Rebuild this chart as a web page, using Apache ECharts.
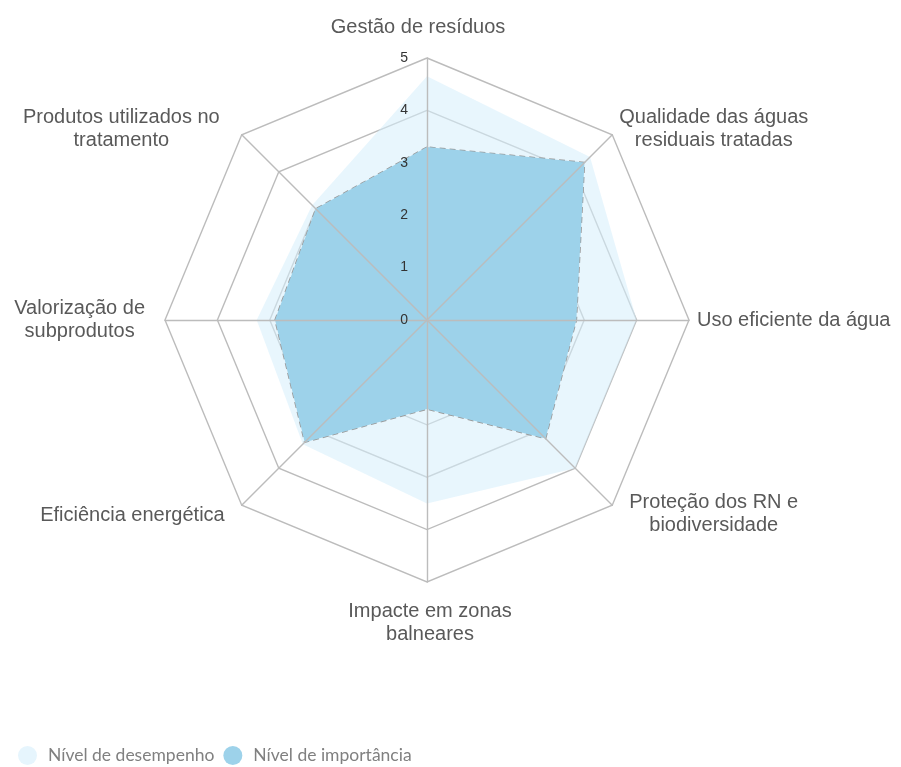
<!DOCTYPE html>
<html>
<head>
<meta charset="utf-8">
<script src="https://cdn.jsdelivr.net/npm/echarts@6/dist/echarts.min.js"></script>
<style>
  html, body { margin: 0; padding: 0; background: #ffffff; }
  #chart { width: 901px; height: 767px; }
</style>
</head>
<body>
<div id="chart"></div>
<script>
// Indicators, listed clockwise from the top
const indicatorNames = [
  'Gestão de resíduos',
  'Qualidade das águas\nresiduais tratadas',
  'Uso eficiente da água',
  'Proteção dos RN e\nbiodiversidade',
  'Impacte em zonas\nbalneares',
  'Eficiência energética',
  'Valorização de\nsubprodutos',
  'Produtos utilizados no\ntratamento'
];
const scaleMax = 5;
const seriesNames = ['Nível de desempenho', 'Nível de importância'];
const desempenho = [4.65, 4.4, 4.0, 4.0, 3.5, 3.35, 3.25, 3.1];
const importancia = [3.3, 4.25, 2.85, 3.2, 1.7, 3.3, 2.9, 3.0];

// Offsets of each axis name from its spoke end (same order as indicatorNames):
// l / r = horizontal padding, up / down = spacer line heights
const nameOffsets = [
  { l: 0,  r: 18, up: 0,  down: 19 },
  { l: 7,  r: 0,  up: 0,  down: 12 },
  { l: 8,  r: 0,  up: 0,  down: 0 },
  { l: 17, r: 0,  up: 18, down: 0 },
  { l: 6,  r: 0,  up: 18, down: 0 },
  { l: 0,  r: 17, up: 20, down: 0 },
  { l: 0,  r: 20, up: 0,  down: 0 },
  { l: 0,  r: 22, up: 0,  down: 12 }
];

// ECharts lays radar indicators out counter-clockwise, so reverse all but the first
function ccw(arr) { return [arr[0]].concat(arr.slice(1).reverse()); }

const center = [427, 320];
const radius = 262;
const gridColor = '#bcbcbc';
const nameFont = '"Liberation Sans", Arial, sans-serif';
const nameSize = 20;

const indicators = ccw(indicatorNames).map(n => ({ name: n, min: 0, max: scaleMax }));

// rich styles for every axis name: one for the text lines, plus spacers
const nameRich = {};
nameOffsets.forEach(function (o, i) {
  nameRich['t' + i] = {
    align: 'center', fontFamily: nameFont, fontSize: nameSize, lineHeight: 23,
    color: '#595959', padding: [0, o.r, 0, o.l]
  };
  nameRich['u' + i] = { fontSize: 1, lineHeight: o.up, height: o.up };
  nameRich['d' + i] = { fontSize: 1, lineHeight: o.down, height: o.down };
});

const chart = echarts.init(document.getElementById('chart'), null, { renderer: 'canvas' });

chart.setOption({
  animation: false,
  backgroundColor: '#ffffff',
  legend: {
    data: seriesNames,
    left: 13,
    top: 741,
    icon: 'circle',
    itemWidth: 19,
    itemHeight: 19,
    itemGap: 9,
    textStyle: { fontFamily: 'Lato, sans-serif', fontSize: 17.5, color: '#808080', padding: [0, 0, 0, 6] }
  },
  radar: [
    {
      // rings and axis names
      center: center,
      radius: radius,
      startAngle: 90,
      splitNumber: 5,
      shape: 'polygon',
      indicator: indicators,
      nameGap: 0,
      axisName: {
        color: '#595959',
        fontFamily: nameFont,
        fontSize: nameSize,
        formatter: function (name) {
          const i = indicatorNames.indexOf(name);
          const o = nameOffsets[i];
          let lines = name.split('\n').map(l => '{t' + i + '|' + l + '}');
          if (o.up) lines.unshift('{u' + i + '| }');
          if (o.down) lines.push('{d' + i + '| }');
          return lines.join('\n');
        },
        rich: nameRich
      },
      axisLine: { show: false },
      axisTick: { show: false },
      axisLabel: { show: false },
      splitArea: { show: false },
      splitLine: { lineStyle: { color: gridColor, width: 1.4 } }
    },
    {
      // spokes drawn above the filled areas
      center: center,
      radius: radius,
      startAngle: 90,
      splitNumber: 5,
      shape: 'polygon',
      z: 10,
      indicator: indicators.map(d => ({ name: '', min: 0, max: scaleMax })),
      axisName: { show: false },
      axisLine: { lineStyle: { color: gridColor, width: 1.4 } },
      axisTick: { show: false },
      axisLabel: { show: false },
      splitArea: { show: false },
      splitLine: { show: false }
    },
    {
      // value scale along the top axis
      center: center,
      radius: radius,
      startAngle: 90,
      splitNumber: 5,
      shape: 'polygon',
      z: 11,
      indicator: [{ name: '', min: 0, max: scaleMax }],
      axisName: { show: false },
      axisLine: { show: false },
      axisTick: { show: false },
      axisLabel: { show: true, color: '#333333', fontFamily: nameFont, fontSize: 14, margin: 19 },
      splitArea: { show: false },
      splitLine: { show: false }
    }
  ],
  series: [
    {
      type: 'radar',
      name: seriesNames[0],
      radarIndex: 0,
      z: 2,
      symbol: 'none',
      color: '#e6f5fd',
      lineStyle: { width: 0, opacity: 0 },
      areaStyle: { color: 'rgba(214,238,251,0.55)', opacity: 1 },
      data: [{ name: seriesNames[0], value: ccw(desempenho) }]
    },
    {
      type: 'radar',
      name: seriesNames[1],
      radarIndex: 0,
      z: 3,
      symbol: 'none',
      color: '#9dd2ea',
      lineStyle: { color: '#9a9a9a', width: 1.6, type: [6, 4] },
      areaStyle: { color: '#9dd2ea', opacity: 1 },
      data: [{ name: seriesNames[1], value: ccw(importancia) }]
    }
  ]
});
</script>
</body>
</html>
